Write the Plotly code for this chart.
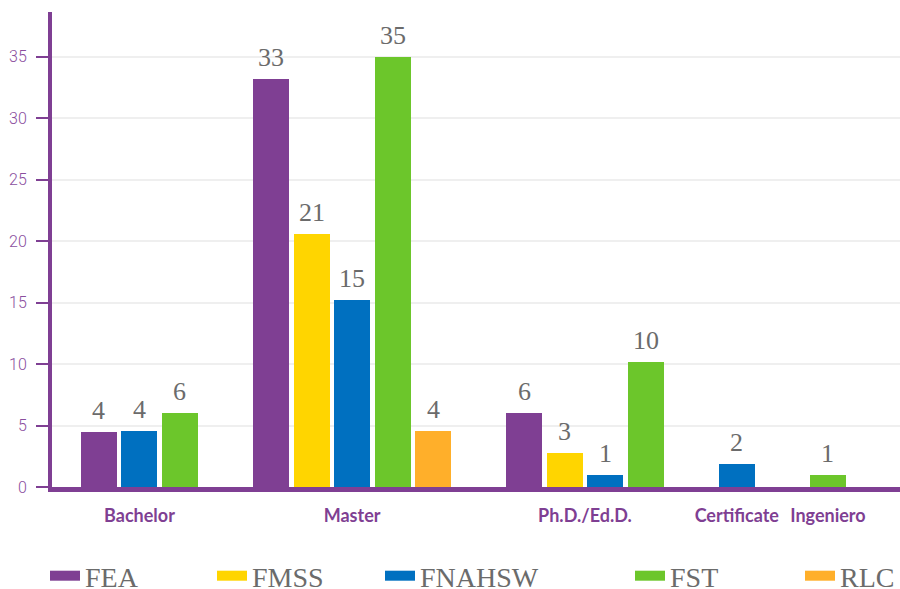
import plotly.graph_objects as go

# ---- data ----
categories = ["Bachelor", "Master", "Ph.D./Ed.D.", "Certificate", "Ingeniero"]
faculties = ["FEA", "FMSS", "FNAHSW", "FST", "RLC"]
colors = ["#7F3F93", "#FFD500", "#0070C0", "#6CC62B", "#FFAF2A"]

# bar heights (None = no bar in that category)
fea    = [4.5,  33.2, 6.0,  None, None]
fmss   = [None, 20.6, 2.8,  None, None]
fnahsw = [4.55, 15.2, 1.0,  1.85, None]
fst    = [6.0,  35.0, 10.2, None, 1.0]
rlc    = [None, 4.55, None, None, None]

# printed labels
fea_lbl    = ["4",  "33", "6",  None, None]
fmss_lbl   = [None, "21", "3",  None, None]
fnahsw_lbl = ["4",  "15", "1",  "2",  None]
fst_lbl    = ["6",  "35", "10", None, "1"]
rlc_lbl    = [None, "4",  None, None, None]

y_ticks = [0, 5, 10, 15, 20, 25, 30, 35]

series = [fea, fmss, fnahsw, fst, rlc]
labels = [fea_lbl, fmss_lbl, fnahsw_lbl, fst_lbl, rlc_lbl]

# ---- compute packed group positions (bars only where data exists) ----
GROUP_GAP = 2.25
pos = {}
centers = []
cursor = 0.0
for ci, cat in enumerate(categories):
    present = [si for si in range(len(series)) if series[si][ci] is not None]
    start = cursor
    for k, si in enumerate(present):
        pos[(si, ci)] = start + k
    end = start + len(present) - 1
    centers.append((start + end) / 2)
    cursor = end + GROUP_GAP

fig = go.Figure()
annotations = []
for si, name in enumerate(faculties):
    xs, ys = [], []
    for ci in range(len(categories)):
        if series[si][ci] is not None:
            xs.append(pos[(si, ci)])
            ys.append(series[si][ci])
            annotations.append(dict(
                x=pos[(si, ci)], y=series[si][ci], xref="x", yref="y",
                text=labels[si][ci], showarrow=False,
                yanchor="bottom", yshift=5,
                font=dict(family="Liberation Serif", size=26, color="#6b6b6b"),
            ))
    fig.add_trace(go.Bar(
        x=xs, y=ys, name=name,
        marker=dict(color=colors[si], line=dict(width=0)),
        width=0.89,
        showlegend=False,
        hoverinfo="skip",
    ))

# legend entries (one legend per item so they can be spaced like the original)
legend_x = [50, 217, 385, 635, 805]
for si, name in enumerate(faculties):
    key = "legend" if si == 0 else f"legend{si+1}"
    fig.add_trace(go.Scatter(
        x=[None], y=[None], mode="lines", name=name,
        line=dict(color=colors[si], width=10),
        legend=key, showlegend=True,
    ))

layout_legends = {}
for si in range(len(faculties)):
    key = "legend" if si == 0 else f"legend{si+1}"
    layout_legends[key] = dict(
        xref="container", yref="container",
        x=(legend_x[si] - 5) / 900, y=(589 - 576) / 589,
        xanchor="left", yanchor="middle",
        orientation="h",
        font=dict(family="Liberation Serif", size=28, color="#6b6b6b"),
        bgcolor="rgba(0,0,0,0)", borderwidth=0,
        itemclick=False, itemdoubleclick=False,
        tracegroupgap=0,
    )

fig.update_layout(
    width=900, height=589,
    margin=dict(l=52, r=0, t=12, b=102),
    plot_bgcolor="white", paper_bgcolor="white",
    barmode="overlay",
    bargap=0,
    annotations=annotations,
    **layout_legends,
)

fig.update_xaxes(
    range=[-1.16, 19.78],
    tickmode="array", tickvals=centers, ticktext=categories,
    tickfont=dict(family="Lato", size=18, color="#7F3F93", weight="bold"),
    showline=True, linecolor="#7F3F93", linewidth=5,
    showgrid=False, zeroline=False, ticks="",
    ticklabelstandoff=8,
)
fig.update_yaxes(
    range=[0, 38.65],
    tickmode="array", tickvals=y_ticks,
    tickfont=dict(family="Roboto", size=16, color="#8A4E9E", weight=300),
    showline=True, linecolor="#7F3F93", linewidth=4,
    showgrid=True, gridcolor="#efefef", gridwidth=2,
    zeroline=False,
    ticks="outside", ticklen=12, tickwidth=2, tickcolor="#7F3F93",
    ticklabelstandoff=6,
)

fig.write_html("out.html", config={"displayModeBar": False},
               post_script="document.body.style.margin='0';")
